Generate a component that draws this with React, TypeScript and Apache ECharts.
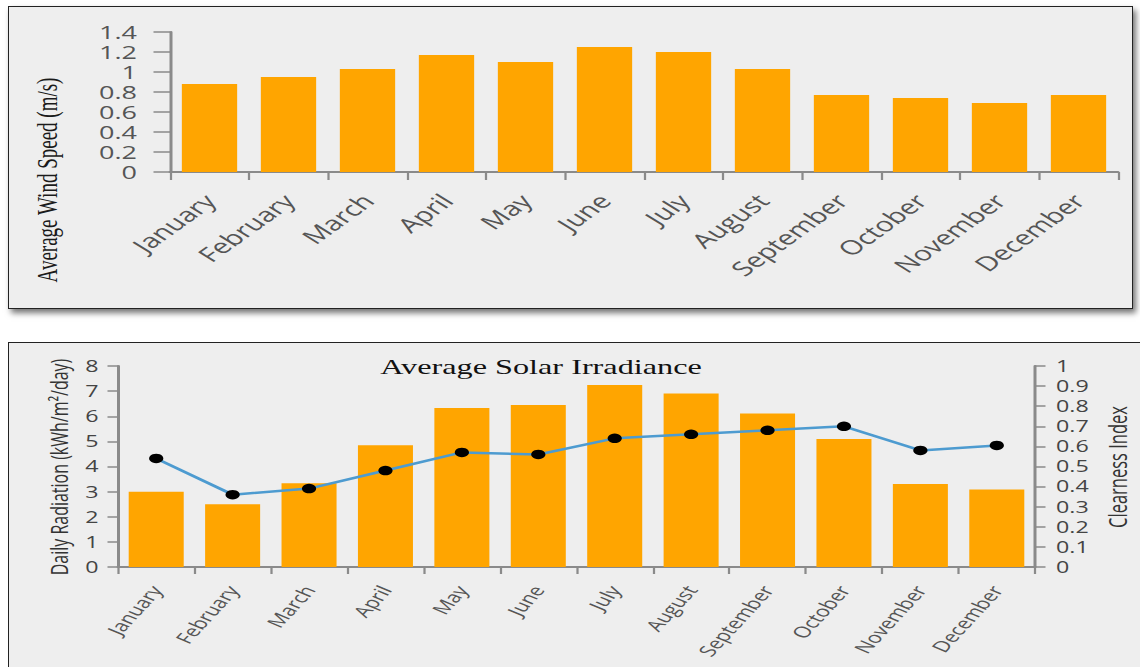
import React, { useEffect, useRef } from "react";
import * as echarts from "echarts";

const months = [
  "January", "February", "March", "April", "May", "June",
  "July", "August", "September", "October", "November", "December",
];
const windSpeed = [0.88, 0.95, 1.03, 1.17, 1.1, 1.25, 1.2, 1.03, 0.77, 0.74, 0.69, 0.77];
const radiation = [3.0, 2.5, 3.33, 4.85, 6.33, 6.45, 7.24, 6.91, 6.11, 5.09, 3.3, 3.08];
const clearness = [0.54, 0.36, 0.39, 0.48, 0.57, 0.56, 0.64, 0.66, 0.68, 0.7, 0.58, 0.605];
const windAxis = [0, 1.4, 0.2];
const radiationAxis = [0, 8, 1];
const clearnessAxis = [0, 1, 0.1];

const S = 1.5; // horizontal stretch of the reference picture
const W = 1140 / S;
const AXIS = "#8a8a8a";
const LABEL = "#555";
const SANS = "Open Sans";
const SERIF = "Liberation Serif";

export default function App() {
  const ref = useRef<HTMLDivElement>(null);

  useEffect(() => {
    if (!ref.current) return;
    const chart = echarts.init(ref.current, undefined, { renderer: "svg" });
    const axisLine = { show: true, lineStyle: { color: AXIS, width: 2 } };
    const tickStyle = { color: AXIS, width: 1.5 };
    chart.setOption({
      animation: false,
      backgroundColor: "transparent",
      grid: [
        { left: 170 / S, width: (1118 - 170) / S, top: 32, height: 140 },
        { left: 118 / S, width: (1035 - 118) / S, top: 366, height: 201 },
      ],
      xAxis: [
        {
          type: "category",
          gridIndex: 0,
          data: months,
          axisLine,
          axisTick: { show: true, length: 8, lineStyle: tickStyle },
          axisLabel: {
            interval: 0,
            rotate: 47,
            fontSize: 20,
            color: LABEL,
            fontFamily: SANS,
            margin: 25,
          },
        },
        {
          type: "category",
          gridIndex: 1,
          data: months,
          axisLine,
          axisTick: { show: true, length: 7, lineStyle: tickStyle },
          axisLabel: {
            interval: 0,
            rotate: 58,
            fontSize: 15.5,
            color: LABEL,
            fontFamily: SANS,
            margin: 20,
          },
        },
      ],
      yAxis: [
        {
          type: "value",
          gridIndex: 0,
          min: windAxis[0],
          max: windAxis[1],
          interval: windAxis[2],
          axisLine,
          axisTick: { show: true, length: 11, lineStyle: tickStyle },
          splitLine: { show: false },
          axisLabel: {
            fontSize: 18,
            lineHeight: 18,
            color: LABEL,
            fontFamily: SANS,
            margin: 22,
          },
        },
        {
          type: "value",
          gridIndex: 1,
          min: radiationAxis[0],
          max: radiationAxis[1],
          interval: radiationAxis[2],
          axisLine,
          axisTick: { show: true, length: 7, lineStyle: tickStyle },
          splitLine: { show: false },
          axisLabel: { fontSize: 15.5, color: "#444", fontFamily: SANS, margin: 13 },
        },
        {
          type: "value",
          gridIndex: 1,
          position: "right",
          min: clearnessAxis[0],
          max: clearnessAxis[1],
          interval: clearnessAxis[2],
          axisLine,
          axisTick: { show: true, length: 7, lineStyle: tickStyle },
          splitLine: { show: false },
          axisLabel: {
            fontSize: 15.5,
            lineHeight: 16,
            color: "#444",
            fontFamily: SANS,
            margin: 14,
          },
        },
      ],
      series: [
        {
          type: "bar",
          xAxisIndex: 0,
          yAxisIndex: 0,
          data: windSpeed,
          barCategoryGap: "30%",
          itemStyle: { color: "#FFA500" },
        },
        {
          type: "bar",
          xAxisIndex: 1,
          yAxisIndex: 1,
          data: radiation,
          barCategoryGap: "28%",
          itemStyle: { color: "#FFA500" },
        },
        {
          type: "line",
          xAxisIndex: 1,
          yAxisIndex: 2,
          data: clearness,
          symbol: "circle",
          symbolSize: 9.5,
          z: 5,
          itemStyle: { color: "#000" },
          lineStyle: { color: "#4d9bd0", width: 2.5 },
        },
      ],
      graphic: [
        {
          type: "text",
          x: 47 / S,
          y: 180,
          rotation: Math.PI / 2,
          style: {
            text: "Average Wind Speed (m/s)",
            fontSize: 19,
            fontFamily: SERIF,
            fill: "#1a1a1a",
            align: "center",
            verticalAlign: "middle",
          },
        },
        {
          type: "text",
          x: 541 / S,
          y: 367,
          style: {
            text: "Average Solar Irradiance",
            fontSize: 21.5,
            fontFamily: SERIF,
            fill: "#111",
            align: "center",
            verticalAlign: "middle",
          },
        },
        {
          type: "text",
          x: 59 / S,
          y: 467,
          rotation: Math.PI / 2,
          style: {
            text: "Daily Radiation (kWh/m²/day)",
            fontSize: 16,
            fontFamily: SANS,
            fill: "#333",
            align: "center",
            verticalAlign: "middle",
          },
        },
        {
          type: "text",
          x: 1118 / S,
          y: 467,
          rotation: Math.PI / 2,
          style: {
            text: "Clearness Index",
            fontSize: 16.5,
            fontFamily: SANS,
            fill: "#333",
            align: "center",
            verticalAlign: "middle",
          },
        },
      ],
    });
    return () => chart.dispose();
  }, []);

  return (
    <div
      style={{
        position: "fixed",
        left: 0,
        top: 0,
        width: 1140,
        height: 667,
        background: "#ffffff",
        overflow: "hidden",
      }}
    >
      <div
        style={{
          position: "absolute",
          left: 8,
          top: 6,
          width: 1123,
          height: 301,
          background: "#eeeeee",
          border: "1.5px solid #222",
          boxShadow: "3px 4px 6px rgba(0,0,0,0.55)",
        }}
      />
      <div
        style={{
          position: "absolute",
          left: 8,
          top: 342,
          width: 1200,
          height: 400,
          background: "#eeeeee",
          borderTop: "1.5px solid #222",
          borderLeft: "1.5px solid #222",
        }}
      />
      <div
        ref={ref}
        style={{
          position: "absolute",
          left: 0,
          top: 0,
          width: W,
          height: 667,
          transform: `scaleX(${S})`,
          transformOrigin: "0 0",
        }}
      />
    </div>
  );
}
